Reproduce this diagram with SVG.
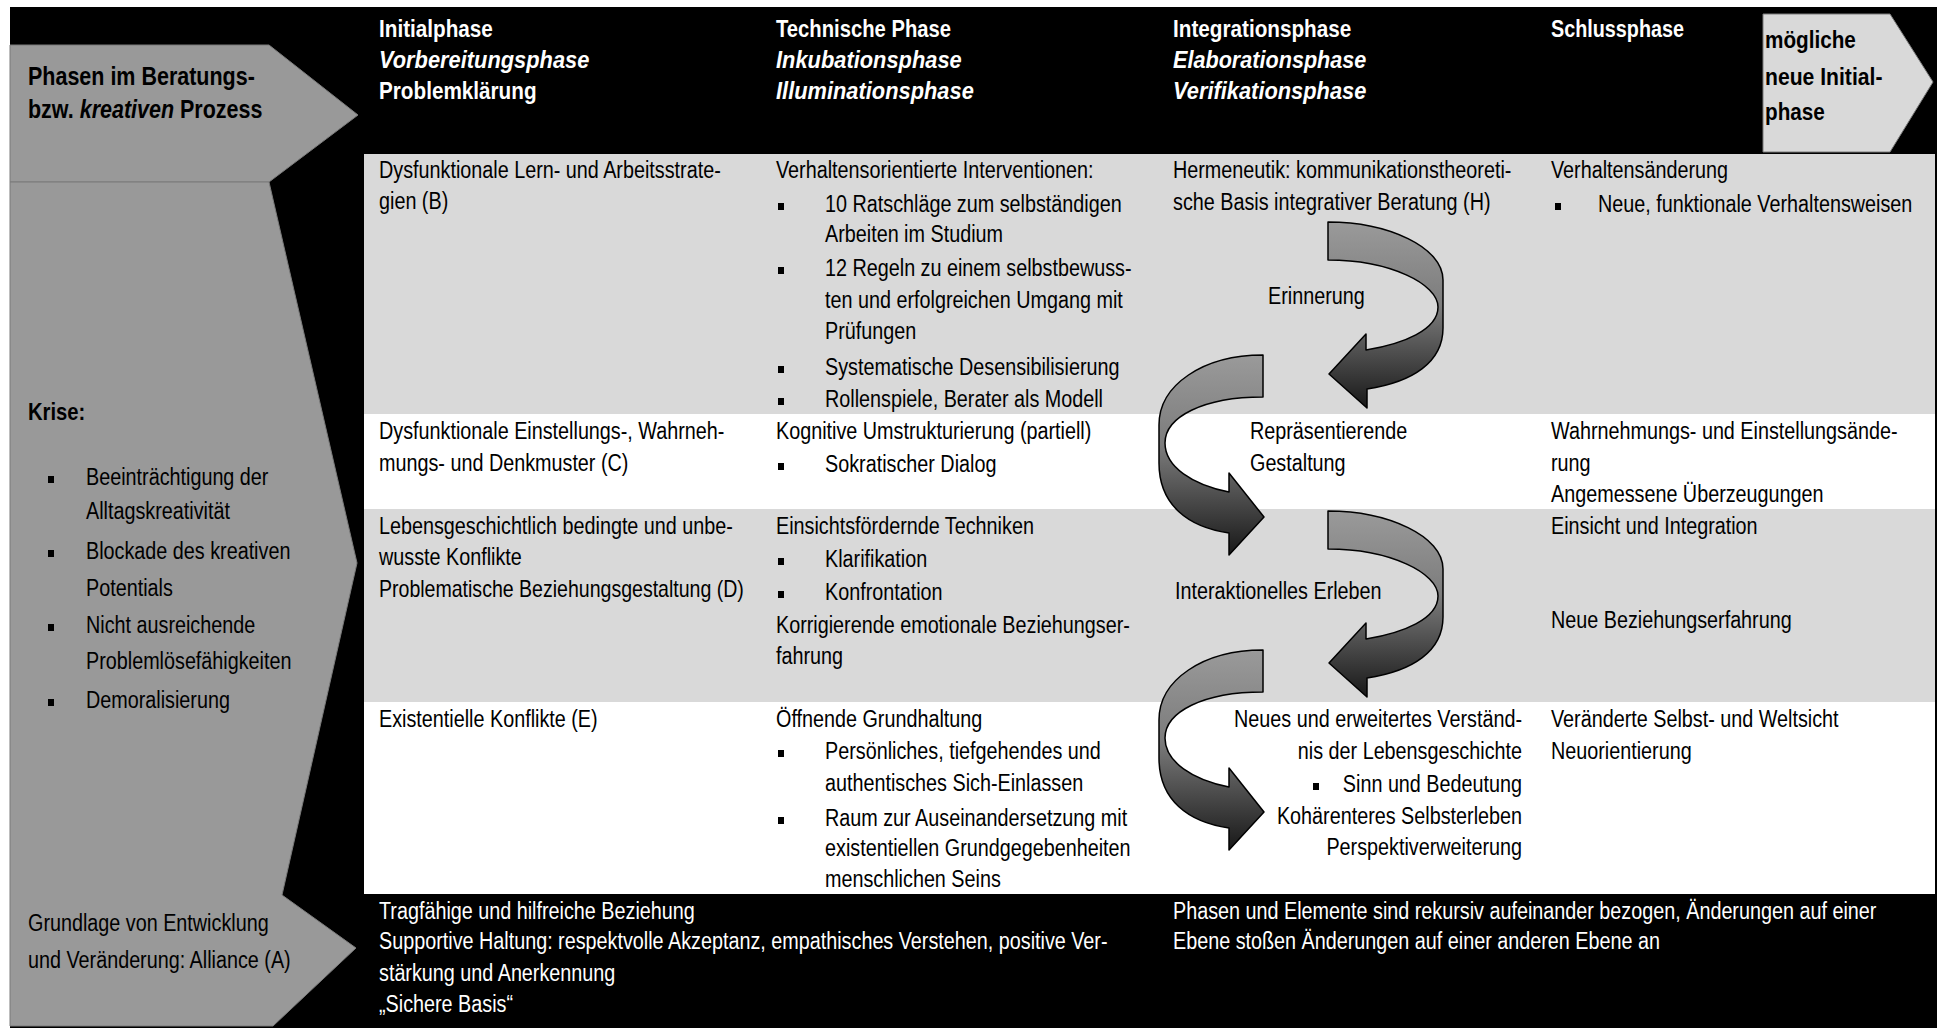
<svg xmlns="http://www.w3.org/2000/svg" width="1937" height="1028" viewBox="0 0 1937 1028">
<defs>
<style>
.t{font-family:'Liberation Sans',Arial,sans-serif;font-size:23px;fill:#000}
.big{font-size:25px}
.w{fill:#fff}
.b{font-weight:bold}
.i{font-style:italic}
.e{text-anchor:end}
.bl{fill:#000}
.gl{fill:#999999;stroke:#7a7a7a;stroke-width:1}
.lg{fill:#d9d9d9}
.wh{fill:#ffffff}
.arw{stroke:#000;stroke-width:1.5;stroke-linejoin:round;fill:url(#ag)}
</style>
<linearGradient id="ag" x1="0" y1="0" x2="0" y2="1">
<stop offset="0" stop-color="#9a9a9a"/>
<stop offset="0.45" stop-color="#7c7c7c"/>
<stop offset="1" stop-color="#181818"/>
</linearGradient>
<path id="arR" class="arw" d="M0,0 C60,0 115,25 115,58 L115,106 C115,140 85,160 39,167 L39,186 L1,152 L38,112 L38,128 C75,122 110,108 110,85 C110,62 62,38 0,38 Z"/>
<path id="arL" class="arw" d="M0,0 C-60,0 -104,30 -104,70 L-104,108 C-104,150 -75,172 -34,178 L-34,200 L1,162 L-34,118 L-34,137 C-70,130 -98,112 -98,88 C-98,62 -60,42 0,42 Z"/>
</defs>

<rect x="0" y="0" width="1937" height="1028" fill="#ffffff"/>
<rect x="10" y="7" width="1927" height="1021" fill="#000000"/>

<g id="left-phasen">
<polygon class="gl" points="10,45 269,45 358,115 269,182 10,182"/>
<text class="t b big" transform="translate(28,85) scale(.86,1)">Phasen im Beratungs-</text>
<text class="t b big" transform="translate(28,118) scale(.86,1)">bzw. <tspan class="i">kreativen</tspan> Prozess</text>
</g>

<g id="left-krise">
<polygon class="gl" points="10,182 269,182 357,563 282,895 356,948 273,1026 10,1026"/>
<text class="t b" transform="translate(28,420) scale(.88,1)">Krise:</text>
<rect class="bl" x="48" y="476" width="6" height="7"/>
<text class="t" transform="translate(86,485) scale(.86,1)">Beeinträchtigung der</text>
<text class="t" transform="translate(86,519) scale(.86,1)">Alltagskreativität</text>
<rect class="bl" x="48" y="550" width="6" height="7"/>
<text class="t" transform="translate(86,559) scale(.86,1)">Blockade des kreativen</text>
<text class="t" transform="translate(86,596) scale(.86,1)">Potentials</text>
<rect class="bl" x="48" y="624" width="6" height="7"/>
<text class="t" transform="translate(86,633) scale(.86,1)">Nicht ausreichende</text>
<text class="t" transform="translate(86,669) scale(.86,1)">Problemlösefähigkeiten</text>
<rect class="bl" x="48" y="699" width="6" height="7"/>
<text class="t" transform="translate(86,708) scale(.86,1)">Demoralisierung</text>
</g>

<g id="left-grundlage">
<text class="t" transform="translate(28,931) scale(.86,1)">Grundlage von Entwicklung</text>
<text class="t" transform="translate(28,968) scale(.86,1)">und Veränderung: Alliance (A)</text>
</g>

<g id="rows">
<rect class="lg" x="364" y="154" width="1571" height="260"/>
<rect class="wh" x="364" y="414" width="1571" height="95"/>
<rect class="lg" x="364" y="509" width="1571" height="193"/>
<rect class="wh" x="364" y="702" width="1571" height="192"/>
</g>

<g id="header">
<text class="t w b" transform="translate(379,37) scale(.9,1)">Initialphase</text>
<text class="t w b i" transform="translate(379,68) scale(.95,1)">Vorbereitungsphase</text>
<text class="t w b" transform="translate(379,99) scale(.9,1)">Problemklärung</text>
<text class="t w b" transform="translate(776,37) scale(.88,1)">Technische Phase</text>
<text class="t w b i" transform="translate(776,68) scale(.95,1)">Inkubationsphase</text>
<text class="t w b i" transform="translate(776,99) scale(.95,1)">Illuminationsphase</text>
<text class="t w b" transform="translate(1173,37) scale(.9,1)">Integrationsphase</text>
<text class="t w b i" transform="translate(1173,68) scale(.94,1)">Elaborationsphase</text>
<text class="t w b i" transform="translate(1173,99) scale(.95,1)">Verifikationsphase</text>
<text class="t w b" transform="translate(1551,37) scale(.86,1)">Schlussphase</text>
</g>

<g id="next-initial">
<polygon points="1763,14 1890,14 1933,82 1890,152 1763,152" fill="#d9d9d9" stroke="#7a7a7a" stroke-width="1"/>
<text class="t b" transform="translate(1765,48) scale(.9,1)">mögliche</text>
<text class="t b" transform="translate(1765,85) scale(.92,1)">neue Initial-</text>
<text class="t b" transform="translate(1765,120) scale(.9,1)">phase</text>
</g>

<g id="cell-B">
<text class="t" transform="translate(379,178) scale(.86,1)">Dysfunktionale Lern- und Arbeitsstrate-</text>
<text class="t" transform="translate(379,209) scale(.86,1)">gien (B)</text>
</g>
<g id="cell-B-tech">
<text class="t" transform="translate(776,178) scale(.86,1)">Verhaltensorientierte Interventionen:</text>
<rect class="bl" x="778" y="203" width="6" height="7"/>
<text class="t" transform="translate(825,212) scale(.86,1)">10 Ratschläge zum selbständigen</text>
<text class="t" transform="translate(825,242) scale(.86,1)">Arbeiten im Studium</text>
<rect class="bl" x="778" y="267" width="6" height="7"/>
<text class="t" transform="translate(825,276) scale(.86,1)">12 Regeln zu einem selbstbewuss-</text>
<text class="t" transform="translate(825,308) scale(.86,1)">ten und erfolgreichen Umgang mit</text>
<text class="t" transform="translate(825,339) scale(.86,1)">Prüfungen</text>
<rect class="bl" x="778" y="366" width="6" height="7"/>
<text class="t" transform="translate(825,375) scale(.86,1)">Systematische Desensibilisierung</text>
<rect class="bl" x="778" y="398" width="6" height="7"/>
<text class="t" transform="translate(825,407) scale(.86,1)">Rollenspiele, Berater als Modell</text>
</g>
<g id="cell-H">
<text class="t" transform="translate(1173,178) scale(.86,1)">Hermeneutik: kommunikationstheoreti-</text>
<text class="t" transform="translate(1173,210) scale(.86,1)">sche Basis integrativer Beratung (H)</text>
<text class="t" transform="translate(1268,304) scale(.86,1)">Erinnerung</text>
</g>
<g id="cell-B-end">
<text class="t" transform="translate(1551,178) scale(.86,1)">Verhaltensänderung</text>
<rect class="bl" x="1555" y="203" width="6" height="7"/>
<text class="t" transform="translate(1598,212) scale(.86,1)">Neue, funktionale Verhaltensweisen</text>
</g>

<g id="cell-C">
<text class="t" transform="translate(379,439) scale(.86,1)">Dysfunktionale Einstellungs-, Wahrneh-</text>
<text class="t" transform="translate(379,471) scale(.86,1)">mungs- und Denkmuster (C)</text>
</g>
<g id="cell-C-tech">
<text class="t" transform="translate(776,439) scale(.86,1)">Kognitive Umstrukturierung (partiell)</text>
<rect class="bl" x="778" y="463" width="6" height="7"/>
<text class="t" transform="translate(825,472) scale(.86,1)">Sokratischer Dialog</text>
</g>
<g id="cell-C-int">
<text class="t" transform="translate(1250,439) scale(.86,1)">Repräsentierende</text>
<text class="t" transform="translate(1250,471) scale(.86,1)">Gestaltung</text>
</g>
<g id="cell-C-end">
<text class="t" transform="translate(1551,439) scale(.86,1)">Wahrnehmungs- und Einstellungsände-</text>
<text class="t" transform="translate(1551,471) scale(.86,1)">rung</text>
<text class="t" transform="translate(1551,502) scale(.86,1)">Angemessene Überzeugungen</text>
</g>

<g id="cell-D">
<text class="t" transform="translate(379,534) scale(.86,1)">Lebensgeschichtlich bedingte und unbe-</text>
<text class="t" transform="translate(379,565) scale(.86,1)">wusste Konflikte</text>
<text class="t" transform="translate(379,597) scale(.85,1)">Problematische Beziehungsgestaltung (D)</text>
</g>
<g id="cell-D-tech">
<text class="t" transform="translate(776,534) scale(.86,1)">Einsichtsfördernde Techniken</text>
<rect class="bl" x="778" y="558" width="6" height="7"/>
<text class="t" transform="translate(825,567) scale(.86,1)">Klarifikation</text>
<rect class="bl" x="778" y="591" width="6" height="7"/>
<text class="t" transform="translate(825,600) scale(.86,1)">Konfrontation</text>
<text class="t" transform="translate(776,633) scale(.86,1)">Korrigierende emotionale Beziehungser-</text>
<text class="t" transform="translate(776,664) scale(.86,1)">fahrung</text>
</g>
<g id="cell-D-int">
<text class="t" transform="translate(1175,599) scale(.86,1)">Interaktionelles Erleben</text>
</g>
<g id="cell-D-end">
<text class="t" transform="translate(1551,534) scale(.86,1)">Einsicht und Integration</text>
<text class="t" transform="translate(1551,628) scale(.86,1)">Neue Beziehungserfahrung</text>
</g>

<g id="cell-E">
<text class="t" transform="translate(379,727) scale(.86,1)">Existentielle Konflikte (E)</text>
</g>
<g id="cell-E-tech">
<text class="t" transform="translate(776,727) scale(.86,1)">Öffnende Grundhaltung</text>
<rect class="bl" x="778" y="750" width="6" height="7"/>
<text class="t" transform="translate(825,759) scale(.86,1)">Persönliches, tiefgehendes und</text>
<text class="t" transform="translate(825,791) scale(.86,1)">authentisches Sich-Einlassen</text>
<rect class="bl" x="778" y="817" width="6" height="7"/>
<text class="t" transform="translate(825,826) scale(.86,1)">Raum zur Auseinandersetzung mit</text>
<text class="t" transform="translate(825,856) scale(.86,1)">existentiellen Grundgegebenheiten</text>
<text class="t" transform="translate(825,887) scale(.86,1)">menschlichen Seins</text>
</g>
<g id="cell-E-int">
<text class="t e" transform="translate(1522,727) scale(.86,1)">Neues und erweitertes Verständ-</text>
<text class="t e" transform="translate(1522,759) scale(.86,1)">nis der Lebensgeschichte</text>
<rect class="bl" x="1313" y="783" width="6" height="7"/>
<text class="t e" transform="translate(1522,792) scale(.86,1)">Sinn und Bedeutung</text>
<text class="t e" transform="translate(1522,824) scale(.86,1)">Kohärenteres Selbsterleben</text>
<text class="t e" transform="translate(1522,855) scale(.86,1)">Perspektiverweiterung</text>
</g>
<g id="cell-E-end">
<text class="t" transform="translate(1551,727) scale(.86,1)">Veränderte Selbst- und Weltsicht</text>
<text class="t" transform="translate(1551,759) scale(.86,1)">Neuorientierung</text>
</g>

<g id="cell-A">
<text class="t w" transform="translate(379,919) scale(.86,1)">Tragfähige und hilfreiche Beziehung</text>
<text class="t w" transform="translate(379,949) scale(.86,1)">Supportive Haltung: respektvolle Akzeptanz, empathisches Verstehen, positive Ver-</text>
<text class="t w" transform="translate(379,981) scale(.86,1)">stärkung und Anerkennung</text>
<text class="t w" transform="translate(379,1012) scale(.86,1)">„Sichere Basis“</text>
</g>
<g id="cell-recursive">
<text class="t w" transform="translate(1173,919) scale(.86,1)">Phasen und Elemente sind rekursiv aufeinander bezogen, Änderungen auf einer</text>
<text class="t w" transform="translate(1173,949) scale(.86,1)">Ebene stoßen Änderungen auf einer anderen Ebene an</text>
</g>

<g id="connectors">
<use href="#arR" x="1328" y="222"/>
<use href="#arL" x="1263" y="355"/>
<use href="#arR" x="1328" y="511"/>
<use href="#arL" x="1263" y="650"/>
</g>
</svg>
